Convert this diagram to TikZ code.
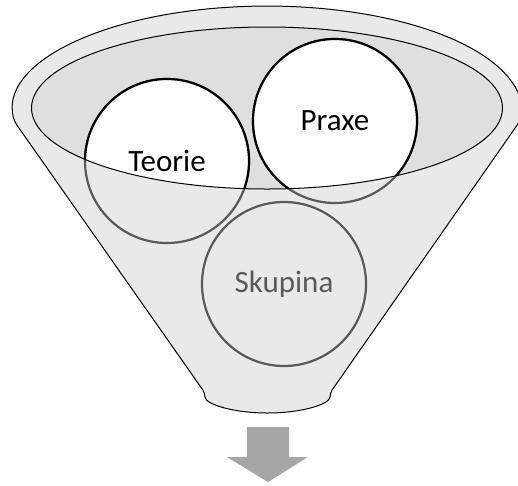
\documentclass[tikz,border=0pt]{standalone}
\usepackage{fontspec}
\setmainfont{Carlito}
\tikzset{>=stealth}
\colorlet{background}{white}
\definecolor{funnelColor}{HTML}{E9E9E9}
\definecolor{rimColor}{HTML}{DFDFDF}
\definecolor{ringColor}{HTML}{595959}
\definecolor{arrowColor}{HTML}{A6A6A6}
\begin{document}
\begin{tikzpicture}[x=1pt,y=-1pt,
	bubble/.style={circle,draw=ringColor,line width=2.2pt,minimum size=164pt,inner sep=0pt},
	bubbletext/.style={font=\fontsize{31}{37}\selectfont,inner sep=0pt}]
				\useasboundingbox (0,0) rectangle (518,485);
				\filldraw[fill=funnelColor,draw=black,line width=1pt,rounded corners=4pt] (14.7,122) arc[start angle=173.4,end angle=366.6,x radius=254,y radius=104] -- (330,393) arc[start angle=0,end angle=180,x radius=62.5,y radius=20] -- cycle;% funnel body
				\fill[rimColor] (267,108) ellipse [x radius=235.5,y radius=81];% inside of the rim
				\node [bubble] (teorie) at (167,161) {};
				\node [bubble] (praxe) at (335,121) {};
				\node [bubble] (skupina) at (284,284) {};
				\begin{scope}
					\clip (267,108) ellipse [x radius=235.5,y radius=81];
					\filldraw[fill=white,draw=black,line width=2.2pt] (teorie) circle [radius=82];
					\filldraw[fill=white,draw=black,line width=2.2pt] (praxe) circle [radius=82];
				\end{scope}
				\draw[line width=1pt] (267,108) ellipse [x radius=235.5,y radius=81];% rim
				\node [bubbletext] (teorieText) at (teorie) {Teorie};
				\node [bubbletext] (praxeText) at (praxe) {Praxe};
				\node [bubbletext,ringColor] (skupinaText) at (skupina) {Skupina};
				\fill[arrowColor] (247,427) -- (289,427) -- (289,457) -- (308,457) -- (268,482) -- (227,457) -- (247,457) -- cycle;% down arrow
\end{tikzpicture}
\end{document}
